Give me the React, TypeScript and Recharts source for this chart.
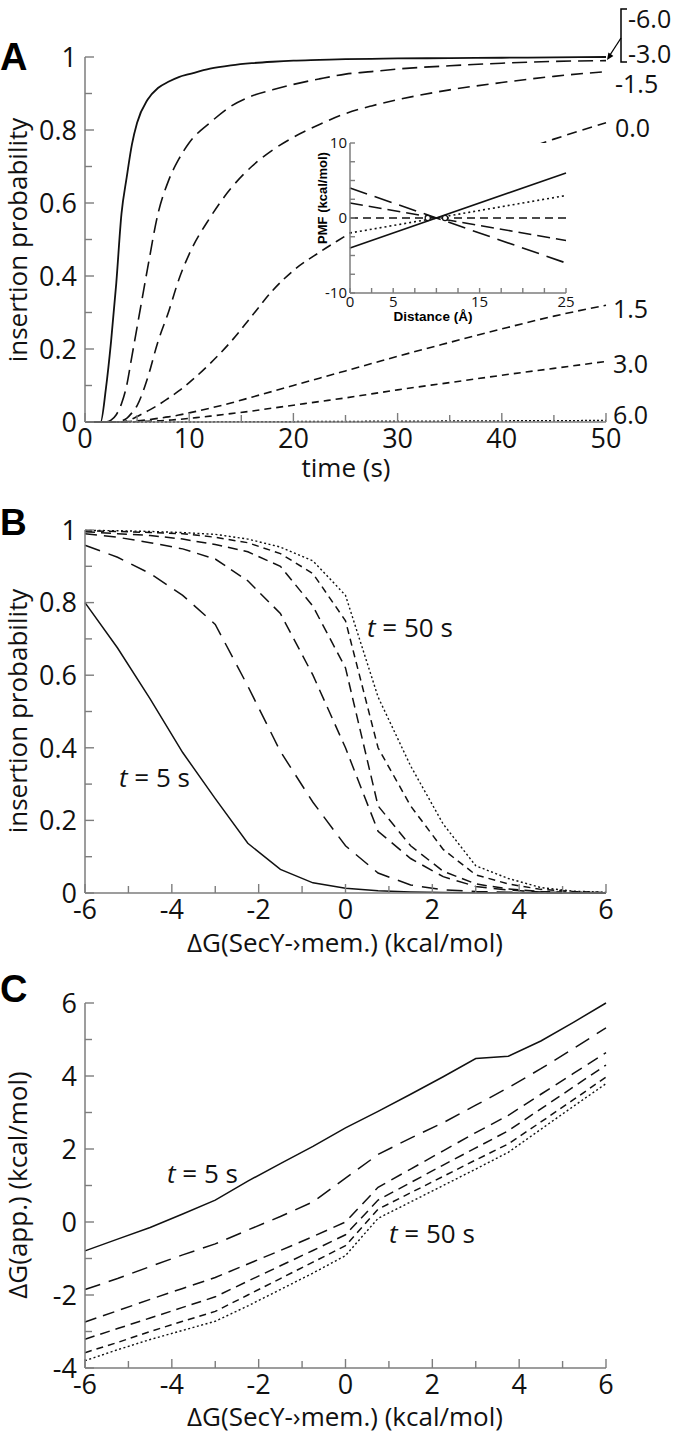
import React from 'react';
import { LineChart, Line, XAxis, YAxis, ReferenceDot } from 'recharts';

const FONT = '"Open Sans", "DejaVu Sans", sans-serif';
const BOLD_FONT = '"Liberation Sans", Arial, sans-serif';
const GRAY = '#7d7d7d';
const INK = '#111111';

// ---------------- Panel A: insertion probability vs time ----------------
const timeS = [0, 1, 1.5, 2, 2.5, 3, 3.5, 4, 4.5, 5, 6, 7, 8, 9, 10, 12, 14, 16, 18, 20, 22.5, 25, 27.5, 30, 35, 40, 45, 50];
const probDGm60 = [0, 0, 0, 0.09, 0.22, 0.38, 0.57, 0.67, 0.76, 0.82, 0.883, 0.915, 0.932, 0.945, 0.953, 0.968, 0.977, 0.983, 0.987, 0.99, 0.992, 0.994, 0.995, 0.996, 0.997, 0.998, 0.999, 1.0];
const probDGm30 = [0, 0, 0, 0, 0.005, 0.02, 0.05, 0.1, 0.18, 0.26, 0.42, 0.57, 0.66, 0.72, 0.765, 0.82, 0.865, 0.893, 0.91, 0.925, 0.94, 0.953, 0.96, 0.967, 0.976, 0.983, 0.988, 0.99];
const probDGm15 = [0, 0, 0, 0, 0, 0, 0.003, 0.01, 0.025, 0.045, 0.12, 0.22, 0.3, 0.39, 0.46, 0.56, 0.64, 0.7, 0.745, 0.78, 0.815, 0.845, 0.866, 0.883, 0.91, 0.93, 0.947, 0.96];
const probDG00 = [0, 0, 0, 0, 0, 0, 0, 0.003, 0.008, 0.015, 0.03, 0.046, 0.065, 0.085, 0.108, 0.16, 0.22, 0.29, 0.36, 0.415, 0.465, 0.51, 0.555, 0.6, 0.67, 0.725, 0.775, 0.82];
const probDGp15 = [0, 0, 0, 0, 0, 0, 0, 0.001, 0.002, 0.003, 0.006, 0.01, 0.014, 0.019, 0.025, 0.038, 0.052, 0.068, 0.084, 0.1, 0.12, 0.14, 0.16, 0.18, 0.218, 0.255, 0.29, 0.32];
const probDGp30 = [0, 0, 0, 0, 0, 0, 0, 0, 0, 0.001, 0.002, 0.003, 0.005, 0.007, 0.01, 0.016, 0.023, 0.03, 0.038, 0.046, 0.056, 0.066, 0.077, 0.088, 0.108, 0.128, 0.147, 0.166];
const probDGp60 = [0, 0, 0, 0, 0, 0, 0, 0, 0, 0, 0, 0, 0, 0, 0, 0.0003, 0.0005, 0.0007, 0.0009, 0.001, 0.0013, 0.0015, 0.0018, 0.002, 0.0025, 0.003, 0.0035, 0.004];
const timeTicks = [0, 5, 10, 15, 20, 25, 30, 35, 40, 45, 50];
const timeTickLabels = [0, 10, 20, 30, 40, 50];
const probTicks = [0, 0.1, 0.2, 0.3, 0.4, 0.5, 0.6, 0.7, 0.8, 0.9, 1];
const probTickLabels = [0, 0.2, 0.4, 0.6, 0.8, 1];
const dGLabelsA = ['-6.0', '-3.0', '-1.5', '0.0', '1.5', '3.0', '6.0'];

// ---------------- Inset: PMF vs distance ----------------
const distA = [0, 25];
const pmfSolid = [-4, 6];
const pmfDotted = [-2, 3];
const pmfFlat = [0, 0];
const pmfMedium = [2, -3];
const pmfLong = [4, -6];
const insetMarkDist = [9, 11];
const distTicks = [0, 2.5, 5, 7.5, 10, 12.5, 15, 17.5, 20, 22.5, 25];
const distTickLabels = [0, 5, 15, 25];
const pmfTicks = [-10, -7.5, -5, -2.5, 0, 2.5, 5, 7.5, 10];
const pmfTickLabels = [-10, 0, 10];

// ---------------- Panels B and C: vs dG(SecY->mem.) ----------------
const dGSecY = [-6, -5.25, -4.5, -3.75, -3, -2.25, -1.5, -0.75, 0, 0.75, 1.5, 2.25, 3, 3.75, 4.5, 5.25, 6];
const probT5 = [0.8, 0.675, 0.535, 0.387, 0.26, 0.137, 0.065, 0.028, 0.013, 0.006, 0.003, 0.0015, 0.001, 0.0005, 0.0003, 0.0002, 0.0001];
const probT10 = [0.958, 0.925, 0.88, 0.82, 0.74, 0.57, 0.39, 0.25, 0.13, 0.055, 0.022, 0.009, 0.004, 0.002, 0.001, 0.0005, 0.0003];
const probT20 = [0.99, 0.98, 0.965, 0.948, 0.92, 0.86, 0.77, 0.6, 0.4, 0.17, 0.095, 0.045, 0.018, 0.008, 0.003, 0.001, 0.0005];
const probT30 = [0.995, 0.99, 0.985, 0.975, 0.96, 0.94, 0.9, 0.79, 0.62, 0.24, 0.13, 0.06, 0.025, 0.011, 0.004, 0.002, 0.001];
const probT40 = [0.998, 0.996, 0.993, 0.99, 0.98, 0.965, 0.935, 0.88, 0.75, 0.4, 0.24, 0.12, 0.05, 0.025, 0.01, 0.004, 0.001];
const probT50 = [0.999, 0.998, 0.996, 0.993, 0.988, 0.975, 0.953, 0.915, 0.82, 0.54, 0.35, 0.19, 0.075, 0.04, 0.015, 0.005, 0.002];

const dGappT5 = [-0.79, -0.47, -0.15, 0.22, 0.6, 1.12, 1.6, 2.07, 2.58, 3.03, 3.5, 3.98, 4.48, 4.54, 4.96, 5.47, 6.0];
const dGappT10 = [-1.85, -1.55, -1.22, -0.9, -0.6, -0.22, 0.15, 0.55, 1.2, 1.85, 2.3, 2.72, 3.2, 3.68, 4.2, 4.75, 5.32];
const dGappT20 = [-2.74, -2.43, -2.12, -1.82, -1.52, -1.15, -0.78, -0.4, 0.0, 0.95, 1.45, 1.95, 2.45, 2.92, 3.5, 4.07, 4.64];
const dGappT30 = [-3.21, -2.92, -2.63, -2.34, -2.05, -1.62, -1.2, -0.78, -0.35, 0.6, 1.08, 1.56, 2.03, 2.5, 3.1, 3.7, 4.3];
const dGappT40 = [-3.58, -3.3, -3.0, -2.72, -2.45, -2.0, -1.55, -1.1, -0.65, 0.35, 0.8, 1.25, 1.7, 2.14, 2.74, 3.35, 3.97];
const dGappT50 = [-3.8, -3.5, -3.22, -2.97, -2.72, -2.3, -1.85, -1.4, -0.92, 0.1, 0.55, 1.0, 1.45, 1.91, 2.54, 3.17, 3.79];

const dGTicks = [-6, -5, -4, -3, -2, -1, 0, 1, 2, 3, 4, 5, 6];
const dGTickLabels = [-6, -4, -2, 0, 2, 4, 6];
const dGappTicks = [-4, -3, -2, -1, 0, 1, 2, 3, 4, 5, 6];
const dGappTickLabels = [-4, -2, 0, 2, 4, 6];

// ---------------- tables ----------------
const tableA = timeS.map((t, i) => ({
  t,
  m60: probDGm60[i], m30: probDGm30[i], m15: probDGm15[i], z00: probDG00[i],
  p15: probDGp15[i], p30: probDGp30[i], p60: probDGp60[i],
}));
const tableInset = distA.map((d, i) => ({
  d, solid: pmfSolid[i], dotted: pmfDotted[i], flat: pmfFlat[i], medium: pmfMedium[i], long: pmfLong[i],
}));
const tableB = dGSecY.map((g, i) => ({
  g, t5: probT5[i], t10: probT10[i], t20: probT20[i], t30: probT30[i], t40: probT40[i], t50: probT50[i],
}));
const tableC = dGSecY.map((g, i) => ({
  g, t5: dGappT5[i], t10: dGappT10[i], t20: dGappT20[i], t30: dGappT30[i], t40: dGappT40[i], t50: dGappT50[i],
}));

// ---------------- styles ----------------
const styleA: { key: string; dash?: string; w: number }[] = [
  { key: 'm60', w: 1.8 },
  { key: 'm30', dash: '15 7', w: 1.6 },
  { key: 'm15', dash: '12 7', w: 1.6 },
  { key: 'z00', dash: '10 6', w: 1.6 },
  { key: 'p15', dash: '8 5', w: 1.6 },
  { key: 'p30', dash: '7 5', w: 1.6 },
  { key: 'p60', dash: '2 2', w: 1.5 },
];
const styleT: { key: string; dash?: string; w: number }[] = [
  { key: 't5', w: 1.5 },
  { key: 't10', dash: '16 9', w: 1.5 },
  { key: 't20', dash: '12 7', w: 1.5 },
  { key: 't30', dash: '10 6', w: 1.5 },
  { key: 't40', dash: '7 5', w: 1.5 },
  { key: 't50', dash: '2 2.5', w: 1.4 },
];
const styleInset: { key: string; dash?: string; w: number }[] = [
  { key: 'long', dash: '18 8', w: 1.6 },
  { key: 'medium', dash: '13 6', w: 1.6 },
  { key: 'flat', dash: '8 5', w: 1.6 },
  { key: 'dotted', dash: '2 3', w: 1.6 },
  { key: 'solid', w: 1.6 },
];

type Side = 'bottom' | 'top' | 'left' | 'right';
interface TickOpts {
  side: Side;
  majors: number[];
  labelled: number[];
  fmt: (v: number) => string;
  major: number;
  minor: number;
  fontSize: number;
  gap: number;
}
const isIn = (arr: number[], v: number) => arr.some((a) => Math.abs(a - v) < 1e-6);

function makeTick(o: TickOpts) {
  return (props: any) => {
    const { x, y, payload } = props;
    const v: number = payload.value;
    const len = isIn(o.majors, v) ? o.major : o.minor;
    const show = isIn(o.labelled, v);
    let line: React.ReactNode = null;
    let label: React.ReactNode = null;
    const ls = { stroke: GRAY, strokeWidth: 1.4 };
    if (o.side === 'bottom') {
      line = <line x1={x} x2={x} y1={y} y2={y - len} {...ls} />;
      if (show)
        label = (
          <text x={x} y={y + o.gap} textAnchor="middle" fontSize={o.fontSize} fontFamily={FONT} fill={INK}>
            {o.fmt(v)}
          </text>
        );
    } else if (o.side === 'top') {
      line = <line x1={x} x2={x} y1={y} y2={y + len} {...ls} />;
    } else if (o.side === 'left') {
      line = <line x1={x} x2={x + len} y1={y} y2={y} {...ls} />;
      if (show)
        label = (
          <text x={x - o.gap} y={y + o.fontSize * 0.36} textAnchor="end" fontSize={o.fontSize} fontFamily={FONT} fill={INK}>
            {o.fmt(v)}
          </text>
        );
    } else {
      line = <line x1={x} x2={x - len} y1={y} y2={y} {...ls} />;
    }
    return (
      <g>
        {line}
        {label}
      </g>
    );
  };
}

const fmtProb = (v: number) => (v === 0 ? '0' : v === 1 ? '1' : v.toFixed(1));
const fmtInt = (v: number) => String(v);
const axisLineStyle = { stroke: GRAY, strokeWidth: 1.5 };

interface AxesOpts {
  xKey: string;
  xDomain: [number, number];
  xTicks: number[];
  xMajors: number[];
  xLabels: number[];
  xFmt: (v: number) => string;
  yDomain: [number, number];
  yTicks: number[];
  yMajors: number[];
  yLabels: number[];
  yFmt: (v: number) => string;
  xHeight: number;
  yWidth: number;
  fontSize: number;
  xGap: number;
  yGap: number;
  major: number;
  minor: number;
}

function axes(p: AxesOpts) {
  const common = { tickSize: 0, tickMargin: 0, tickLine: false, axisLine: axisLineStyle, interval: 0 as const };
  return [
    <XAxis
      key="xb"
      xAxisId="b"
      dataKey={p.xKey}
      type="number"
      domain={p.xDomain}
      ticks={p.xTicks}
      height={p.xHeight}
      {...common}
      tick={makeTick({ side: 'bottom', majors: p.xMajors, labelled: p.xLabels, fmt: p.xFmt, major: p.major, minor: p.minor, fontSize: p.fontSize, gap: p.xGap })}
    />,
    <XAxis
      key="xt"
      xAxisId="t"
      orientation="top"
      dataKey={p.xKey}
      type="number"
      domain={p.xDomain}
      ticks={p.xTicks}
      height={0}
      {...common}
      tick={makeTick({ side: 'top', majors: p.xMajors, labelled: [], fmt: p.xFmt, major: p.major, minor: p.minor, fontSize: p.fontSize, gap: 0 })}
    />,
    <YAxis
      key="yl"
      yAxisId="l"
      type="number"
      domain={p.yDomain}
      ticks={p.yTicks}
      width={p.yWidth}
      {...common}
      tick={makeTick({ side: 'left', majors: p.yMajors, labelled: p.yLabels, fmt: p.yFmt, major: p.major, minor: p.minor, fontSize: p.fontSize, gap: p.yGap })}
    />,
    <YAxis
      key="yr"
      yAxisId="r"
      orientation="right"
      type="number"
      domain={p.yDomain}
      ticks={p.yTicks}
      width={0}
      {...common}
      tick={makeTick({ side: 'right', majors: p.yMajors, labelled: [], fmt: p.yFmt, major: p.major, minor: p.minor, fontSize: p.fontSize, gap: 0 })}
    />,
  ];
}

const TICK_FONT = 27;

function PanelA() {
  return (
    <LineChart width={681} height={500} data={tableA} margin={{ top: 57, right: 75, bottom: 0, left: 0 }}>
      {axes({
        xKey: 't', xDomain: [0, 50], xTicks: timeTicks, xMajors: timeTickLabels, xLabels: timeTickLabels, xFmt: fmtInt,
        yDomain: [0, 1], yTicks: probTicks, yMajors: probTickLabels, yLabels: probTickLabels, yFmt: fmtProb,
        xHeight: 78, yWidth: 85, fontSize: TICK_FONT, xGap: 26, yGap: 8, major: 9, minor: 7,
      })}
      {styleA.map((s) => (
        <Line
          key={s.key}
          xAxisId="b"
          yAxisId="l"
          type="monotone"
          dataKey={s.key}
          stroke={INK}
          strokeWidth={s.w}
          strokeDasharray={s.dash}
          dot={false}
          activeDot={false}
          isAnimationActive={false}
        />
      ))}
    </LineChart>
  );
}

function Inset() {
  return (
    <LineChart width={300} height={210} data={tableInset} margin={{ top: 23, right: 24, bottom: 0, left: 0 }}>
      {axes({
        xKey: 'd', xDomain: [0, 25], xTicks: distTicks, xMajors: distTicks, xLabels: distTickLabels, xFmt: fmtInt,
        yDomain: [-10, 10], yTicks: pmfTicks, yMajors: pmfTicks, yLabels: pmfTickLabels, yFmt: fmtInt,
        xHeight: 37, yWidth: 60, fontSize: 15, xGap: 14, yGap: 3, major: 5, minor: 5,
      })}
      {styleInset.map((s) => (
        <Line
          key={s.key}
          xAxisId="b"
          yAxisId="l"
          type="linear"
          dataKey={s.key}
          stroke={INK}
          strokeWidth={s.w}
          strokeDasharray={s.dash}
          dot={false}
          activeDot={false}
          isAnimationActive={false}
        />
      ))}
      {insetMarkDist.map((d) => (
        <ReferenceDot key={d} xAxisId="b" yAxisId="l" x={d} y={0} r={2.6} fill="#fff" stroke={INK} strokeWidth={1.2} />
      ))}
    </LineChart>
  );
}

function PanelT(props: { data: any[]; height: number; top: number; yDomain: [number, number]; yTicks: number[]; yLabels: number[]; yFmt: (v: number) => string; xHeight: number }) {
  return (
    <LineChart width={681} height={props.height} data={props.data} margin={{ top: props.top, right: 75, bottom: 0, left: 0 }}>
      {axes({
        xKey: 'g', xDomain: [-6, 6], xTicks: dGTicks, xMajors: dGTickLabels, xLabels: dGTickLabels, xFmt: fmtInt,
        yDomain: props.yDomain, yTicks: props.yTicks, yMajors: props.yLabels, yLabels: props.yLabels, yFmt: props.yFmt,
        xHeight: props.xHeight, yWidth: 85, fontSize: TICK_FONT, xGap: 26, yGap: 8, major: 9, minor: 7,
      })}
      {styleT.map((s) => (
        <Line
          key={s.key}
          xAxisId="b"
          yAxisId="l"
          type="linear"
          dataKey={s.key}
          stroke={INK}
          strokeWidth={s.w}
          strokeDasharray={s.dash}
          dot={false}
          activeDot={false}
          isAnimationActive={false}
        />
      ))}
    </LineChart>
  );
}

const dGxTitle = 'ΔG(SecY-\u203Amem.) (kcal/mol)';

function Overlay() {
  const t = { fontFamily: FONT, fontSize: 26, fill: INK };
  const b = { fontFamily: BOLD_FONT, fontWeight: 700, fill: '#000' };
  const rightX = [628, 628, 615, 615, 613, 613, 613];
  const rightY = [28, 63, 93, 137, 318, 373, 424];
  return (
    <svg width={681} height={1434} style={{ position: 'absolute', left: 0, top: 0, pointerEvents: 'none' }}>
      <text x={0} y={70} fontSize={38} {...b}>A</text>
      <text x={0} y={535} fontSize={37} {...b}>B</text>
      <text x={0} y={1002} fontSize={38} {...b}>C</text>

      <text transform="translate(27,240) rotate(-90)" textAnchor="middle" {...t}>insertion probability</text>
      <text x={346} y={477} textAnchor="middle" {...t}>time (s)</text>
      <text transform="translate(27,711) rotate(-90)" textAnchor="middle" {...t}>insertion probability</text>
      <text x={345} y={952} textAnchor="middle" {...t}>{dGxTitle}</text>
      <text transform="translate(27,1185) rotate(-90)" textAnchor="middle" {...t}>ΔG(app.) (kcal/mol)</text>
      <text x={345} y={1426} textAnchor="middle" {...t}>{dGxTitle}</text>

      {dGLabelsA.map((s, i) => (
        <text key={s} x={rightX[i]} y={rightY[i]} {...t} fontSize={25}>{s}</text>
      ))}
      <path d="M627,9 L621,9 L621,62 L627,62" fill="none" stroke="#000" strokeWidth={1.5} />
      <line x1={621} y1={38} x2={610} y2={55} stroke="#000" strokeWidth={1.3} />
      <polygon points="607,60 613.4,55.9 608.4,52.5" fill="#000" />

      <text transform="translate(327,198) rotate(-90)" textAnchor="middle" fontSize={13} {...b}>PMF (kcal/mol)</text>
      <text x={433} y={321} textAnchor="middle" fontSize={13.5} {...b}>Distance (Å)</text>

      <text x={367} y={637} {...t}><tspan fontStyle="italic">t</tspan> = 50 s</text>
      <text x={119} y={787} {...t}><tspan fontStyle="italic">t</tspan> = 5 s</text>
      <text x={167} y={1183} {...t}><tspan fontStyle="italic">t</tspan> = 5 s</text>
      <text x={389} y={1243} {...t}><tspan fontStyle="italic">t</tspan> = 50 s</text>
    </svg>
  );
}

export default function App() {
  return (
    <div style={{ position: 'absolute', left: 0, top: 0, width: 681, height: 1434, background: '#fff', overflow: 'hidden' }}>
      <div style={{ position: 'absolute', left: 0, top: 0 }}>
        <PanelA />
      </div>
      <div style={{ position: 'absolute', left: 350, top: 143, width: 216, height: 150, background: '#fff' }} />
      <div style={{ position: 'absolute', left: 290, top: 120 }}>
        <Inset />
      </div>
      <div style={{ position: 'absolute', left: 0, top: 480 }}>
        <PanelT data={tableB} height={480} top={50} yDomain={[0, 1]} yTicks={probTicks} yLabels={probTickLabels} yFmt={fmtProb} xHeight={67} />
      </div>
      <div style={{ position: 'absolute', left: 0, top: 960 }}>
        <PanelT data={tableC} height={474} top={43} yDomain={[-4, 6]} yTicks={dGappTicks} yLabels={dGappTickLabels} yFmt={fmtInt} xHeight={66} />
      </div>
      <Overlay />
    </div>
  );
}
